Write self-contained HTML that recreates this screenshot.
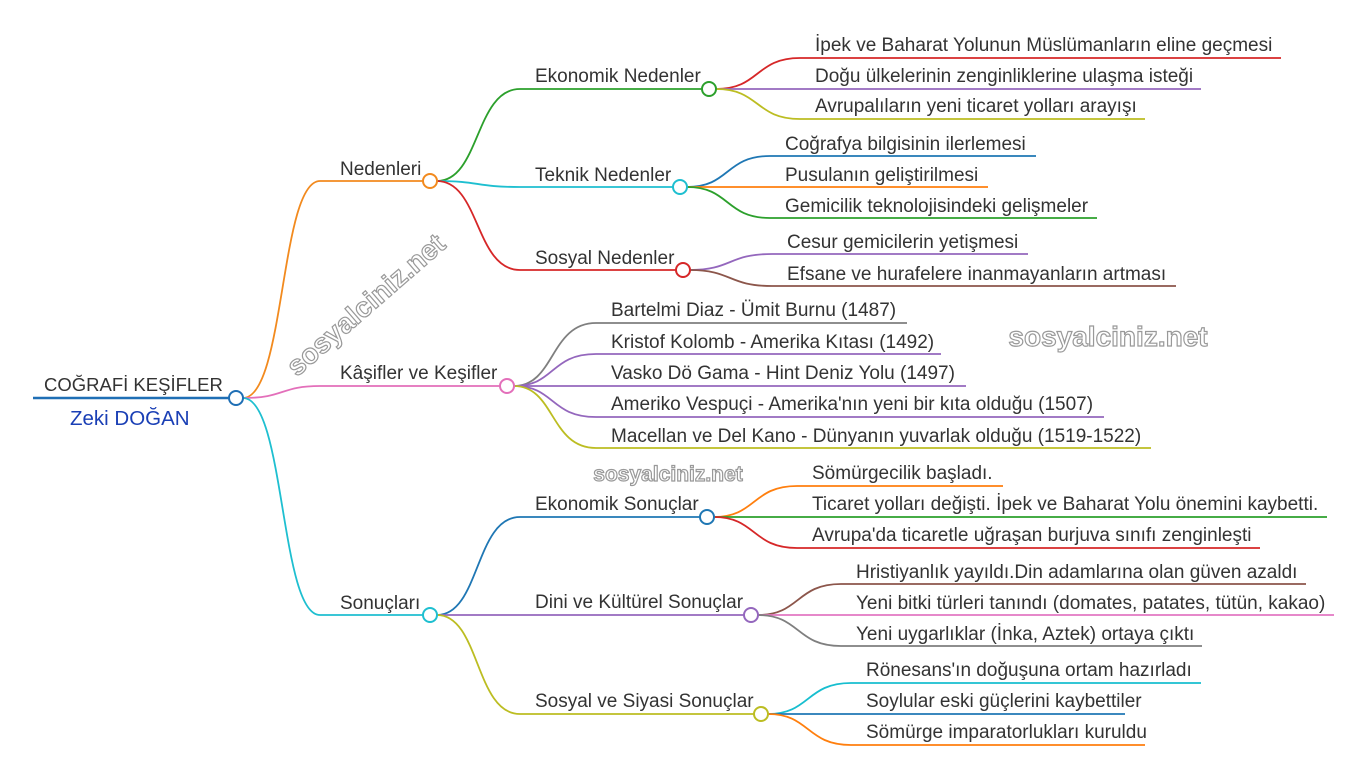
<!DOCTYPE html>
<html><head><meta charset="utf-8"><style>
html,body{margin:0;padding:0;background:#fff;}
svg{display:block;}
text{font-family:"Liberation Sans",sans-serif;font-size:19px;fill:#333;}
.wm{font-size:28px;font-weight:bold;fill:#fff;stroke:#999;stroke-width:1.2px;}
</style></head><body>
<svg width="1365" height="767" viewBox="0 0 1365 767" xmlns="http://www.w3.org/2000/svg" fill="none" stroke-width="1.8">
<!-- root -->
<line x1="33" y1="398" x2="229" y2="398" stroke="#1f6fb5" stroke-width="2.5"/>
<text x="44" y="391" style="font-size:18.5px">COĞRAFİ KEŞİFLER</text>
<text x="70" y="425" style="fill:#1a3fb5;font-size:20.5px">Zeki DOĞAN</text>

<path d="M243 398 C285 398,280 181,320 181 L423 181" stroke="#f28a1e"/>
<text x="340" y="175">Nedenleri</text>
<path d="M243 398 C285 398,280 386,320 386 L500 386" stroke="#e36fba"/>
<text x="340" y="379">Kâşifler ve Keşifler</text>
<path d="M243 398 C285 398,280 615,320 615 L423 615" stroke="#1ebfd0"/>
<text x="340" y="609">Sonuçları</text>

<path d="M437 181 C480 181,475 89,520 89 L702 89" stroke="#2ca02c"/>
<text x="535" y="82">Ekonomik Nedenler</text>
<path d="M437 181 C480 181,475 187,520 187 L673 187" stroke="#1ebfd0"/>
<text x="535" y="181">Teknik Nedenler</text>
<path d="M437 181 C480 181,475 270,520 270 L676 270" stroke="#d62728"/>
<text x="535" y="264">Sosyal Nedenler</text>

<path d="M716 89 C760 89,755 58,800 58 L1281 58" stroke="#d62728"/>
<text x="815" y="51">İpek ve Baharat Yolunun Müslümanların eline geçmesi</text>
<path d="M716 89 L1201 89" stroke="#9467bd"/>
<text x="815" y="82">Doğu ülkelerinin zenginliklerine ulaşma isteği</text>
<path d="M716 89 C760 89,755 119,800 119 L1145 119" stroke="#bcbd22"/>
<text x="815" y="112">Avrupalıların yeni ticaret yolları arayışı</text>

<path d="M687 187 C730 187,725 156,770 156 L1036 156" stroke="#1f77b4"/>
<text x="785" y="150">Coğrafya bilgisinin ilerlemesi</text>
<path d="M687 187 L988 187" stroke="#ff7f0e"/>
<text x="785" y="181">Pusulanın geliştirilmesi</text>
<path d="M687 187 C730 187,725 218,770 218 L1097 218" stroke="#2ca02c"/>
<text x="785" y="212">Gemicilik teknolojisindeki gelişmeler</text>

<path d="M690 270 C732 270,728 254,772 254 L1028 254" stroke="#9467bd"/>
<text x="787" y="248">Cesur gemicilerin yetişmesi</text>
<path d="M690 270 C732 270,728 286,772 286 L1176 286" stroke="#8c564b"/>
<text x="787" y="280">Efsane ve hurafelere inanmayanların artması</text>

<path d="M514 386 C555 386,550 323,596 323 L907 323" stroke="#7f7f7f"/>
<text x="611" y="316">Bartelmi Diaz - Ümit Burnu (1487)</text>
<path d="M514 386 C555 386,550 354,596 354 L941 354" stroke="#9467bd"/>
<text x="611" y="348">Kristof Kolomb - Amerika Kıtası (1492)</text>
<path d="M514 386 L966 386" stroke="#9467bd"/>
<text x="611" y="379">Vasko Dö Gama - Hint Deniz Yolu (1497)</text>
<path d="M514 386 C555 386,550 417,596 417 L1104 417" stroke="#9467bd"/>
<text x="611" y="410">Ameriko Vespuçi - Amerika'nın yeni bir kıta olduğu (1507)</text>
<path d="M514 386 C555 386,550 448,596 448 L1151 448" stroke="#bcbd22"/>
<text x="611" y="442">Macellan ve Del Kano - Dünyanın yuvarlak olduğu (1519-1522)</text>

<path d="M437 615 C480 615,475 517,520 517 L700 517" stroke="#1f77b4"/>
<text x="535" y="510">Ekonomik Sonuçlar</text>
<path d="M437 615 L744 615" stroke="#9467bd"/>
<text x="535" y="608">Dini ve Kültürel Sonuçlar</text>
<path d="M437 615 C480 615,475 714,520 714 L754 714" stroke="#bcbd22"/>
<text x="535" y="707">Sosyal ve Siyasi Sonuçlar</text>

<path d="M714 517 C756 517,752 486,797 486 L1003 486" stroke="#ff7f0e"/>
<text x="812" y="479">Sömürgecilik başladı.</text>
<path d="M714 517 L1327 517" stroke="#2ca02c"/>
<text x="812" y="510">Ticaret yolları değişti. İpek ve Baharat Yolu önemini kaybetti.</text>
<path d="M714 517 C756 517,752 548,797 548 L1260 548" stroke="#d62728"/>
<text x="812" y="541">Avrupa'da ticaretle uğraşan burjuva sınıfı zenginleşti</text>

<path d="M758 615 C800 615,796 584,841 584 L1306 584" stroke="#8c564b"/>
<text x="856" y="578">Hristiyanlık yayıldı.Din adamlarına olan güven azaldı</text>
<path d="M758 615 L1334 615" stroke="#e377c2"/>
<text x="856" y="609">Yeni bitki türleri tanındı (domates, patates, tütün, kakao)</text>
<path d="M758 615 C800 615,796 646,841 646 L1202 646" stroke="#7f7f7f"/>
<text x="856" y="640">Yeni uygarlıklar (İnka, Aztek) ortaya çıktı</text>

<path d="M768 714 C810 714,806 683,851 683 L1201 683" stroke="#17becf"/>
<text x="866" y="676">Rönesans'ın doğuşuna ortam hazırladı</text>
<path d="M768 714 L1125 714" stroke="#1f77b4"/>
<text x="866" y="707">Soylular eski güçlerini kaybettiler</text>
<path d="M768 714 C810 714,806 745,851 745 L1145 745" stroke="#ff7f0e"/>
<text x="866" y="738">Sömürge imparatorlukları kuruldu</text>

<g fill="#fff" stroke-width="2">
<circle cx="236" cy="398" r="7" stroke="#1f6fb5"/>
<circle cx="430" cy="181" r="7" stroke="#f28a1e"/>
<circle cx="507" cy="386" r="7" stroke="#e36fba"/>
<circle cx="430" cy="615" r="7" stroke="#1ebfd0"/>
<circle cx="709" cy="89" r="7" stroke="#2ca02c"/>
<circle cx="680" cy="187" r="7" stroke="#1ebfd0"/>
<circle cx="683" cy="270" r="7" stroke="#d62728"/>
<circle cx="707" cy="517" r="7" stroke="#1f77b4"/>
<circle cx="751" cy="615" r="7" stroke="#9467bd"/>
<circle cx="761" cy="714" r="7" stroke="#bcbd22"/>
</g>

<text class="wm" x="0" y="0" text-anchor="middle" transform="translate(372,312) rotate(-41)">sosyalciniz.net</text>
<text class="wm" x="1108" y="346" text-anchor="middle">sosyalciniz.net</text>
<text class="wm" x="668" y="481" text-anchor="middle" style="font-size:21px">sosyalciniz.net</text>
</svg>
</body></html>
